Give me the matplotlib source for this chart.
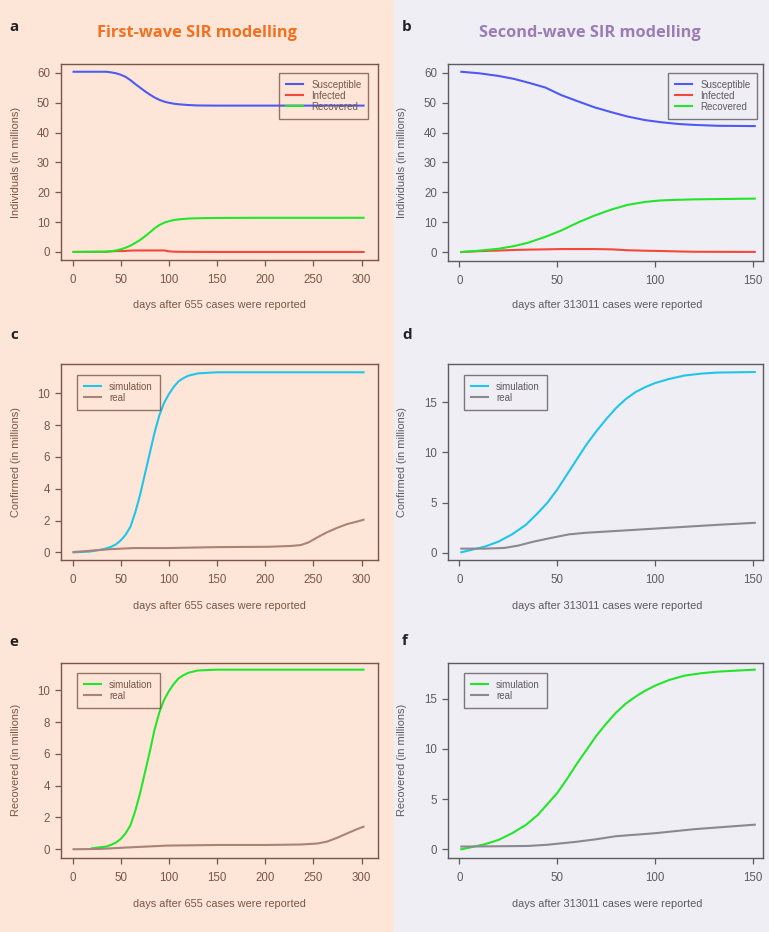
import matplotlib.pyplot as plt

plt.rcParams['font.family'] = ['Liberation Sans', 'DejaVu Sans']

W, H = 769, 932

# panel a: first-wave SIR
a_days = [1, 35, 40, 45, 50, 55, 60, 65, 70, 75, 80, 85, 90, 95, 100, 105, 110, 120, 130, 150, 200, 250, 302]
a_susc = [60.4, 60.4, 60.2, 59.9, 59.4, 58.7, 57.6, 56.3, 55.1, 53.9, 52.8, 51.8, 51.0, 50.4, 50.0, 49.7, 49.5, 49.25, 49.1, 49.05, 49.05, 49.05, 49.05]
a_inf = [0.0, 0.05, 0.2, 0.3, 0.3, 0.35, 0.45, 0.5, 0.5, 0.5, 0.5, 0.5, 0.5, 0.5, 0.2, 0.1, 0.05, 0.03, 0.02, 0.0, 0.0, 0.0, 0.0]
a_rec = [0.0, 0.1, 0.25, 0.5, 0.9, 1.4, 2.1, 3.0, 4.0, 5.2, 6.5, 7.9, 9.0, 9.8, 10.3, 10.7, 10.9, 11.2, 11.3, 11.4, 11.45, 11.45, 11.45]

# panel b: second-wave SIR
b_days = [1, 10, 20, 28, 35, 44, 52, 61, 69, 78, 86, 95, 103, 112, 120, 132, 151]
b_susc = [60.4, 59.9, 59.0, 58.0, 56.8, 55.1, 52.6, 50.4, 48.5, 46.8, 45.4, 44.2, 43.5, 42.9, 42.6, 42.3, 42.2]
b_inf = [0.0, 0.3, 0.5, 0.7, 0.8, 0.9, 1.0, 1.0, 1.0, 0.9, 0.6, 0.45, 0.35, 0.2, 0.1, 0.07, 0.05]
b_rec = [0.0, 0.45, 1.1, 2.0, 3.1, 5.1, 7.2, 10.0, 12.2, 14.3, 15.8, 16.8, 17.3, 17.5, 17.65, 17.75, 17.9]

# panel c: first-wave confirmed
c_days = [1, 18, 32, 40, 45, 50, 55, 60, 65, 70, 75, 80, 85, 90, 95, 100, 105, 110, 115, 120, 130, 150, 200, 250, 302]
c_sim = [0.0, 0.05, 0.2, 0.35, 0.5, 0.75, 1.1, 1.6, 2.5, 3.6, 4.9, 6.2, 7.5, 8.6, 9.4, 9.95, 10.4, 10.75, 10.95, 11.1, 11.25, 11.32, 11.32, 11.32, 11.32]
c_real_days = [1, 18, 39, 63, 98, 150, 202, 226, 237, 245, 254, 264, 275, 285, 295, 302]
c_real = [0.02, 0.1, 0.2, 0.27, 0.27, 0.33, 0.35, 0.4, 0.46, 0.63, 0.94, 1.26, 1.55, 1.78, 1.93, 2.05]

# panel d: second-wave confirmed
d_days = [1, 6, 13, 20, 27, 34, 40, 45, 50, 55, 60, 65, 70, 75, 80, 85, 90, 95, 100, 107, 115, 124, 132, 151]
d_sim = [0.07, 0.3, 0.63, 1.13, 1.86, 2.8, 3.95, 5.0, 6.3, 7.8, 9.3, 10.8, 12.1, 13.3, 14.4, 15.3, 16.0, 16.5, 16.9, 17.3, 17.65, 17.85, 17.95, 18.0]
d_real_days = [1, 13, 23, 30, 38, 47, 56, 64, 81, 98, 115, 132, 151]
d_real = [0.43, 0.43, 0.5, 0.73, 1.13, 1.5, 1.85, 2.0, 2.2, 2.4, 2.6, 2.8, 3.0]

# panel e: first-wave recovered
e_days = [20, 35, 40, 45, 50, 55, 60, 65, 70, 75, 80, 85, 90, 95, 100, 105, 110, 115, 120, 130, 150, 200, 250, 302]
e_sim = [0.06, 0.17, 0.28, 0.42, 0.65, 1.0, 1.5, 2.4, 3.5, 4.8, 6.1, 7.5, 8.6, 9.4, 9.95, 10.4, 10.75, 10.95, 11.1, 11.25, 11.3, 11.3, 11.3, 11.3]
e_real_days = [1, 28, 63, 98, 150, 202, 237, 254, 264, 275, 285, 295, 302]
e_real = [0.0, 0.02, 0.13, 0.23, 0.27, 0.27, 0.3, 0.36, 0.48, 0.73, 1.0, 1.26, 1.42]

# panel f: second-wave recovered
f_days = [1, 6, 13, 20, 27, 34, 40, 45, 50, 55, 60, 65, 70, 75, 80, 85, 90, 95, 100, 107, 115, 124, 132, 151]
f_sim = [0.0, 0.2, 0.5, 0.93, 1.6, 2.43, 3.4, 4.5, 5.6, 7.0, 8.5, 9.9, 11.3, 12.5, 13.6, 14.5, 15.2, 15.8, 16.3, 16.85, 17.3, 17.55, 17.7, 17.9]
f_real_days = [1, 20, 35, 45, 50, 60, 70, 80, 100, 120, 151]
f_real = [0.27, 0.3, 0.33, 0.45, 0.55, 0.75, 1.0, 1.3, 1.6, 2.0, 2.45]

BLUE, RED, GREEN, CYAN = '#4E5AF2', '#F5473A', '#22E62A', '#1FC6EA'
LEFT_BG, RIGHT_BG = '#FDE6D8', '#F0EEF5'
LEFT_TXT, RIGHT_TXT = '#7A5646', '#5E5A62'
LEFT_REAL, RIGHT_REAL = '#A98474', '#8C8892'
FS = 7.9

fig = plt.figure(figsize=(W / 100, H / 100), dpi=100)
fig.patches.append(plt.Rectangle((0, 0), 394 / W, 1, transform=fig.transFigure,
                                 color=LEFT_BG, zorder=-10))
fig.patches.append(plt.Rectangle((394 / W, 0), 1 - 394 / W, 1, transform=fig.transFigure,
                                 color=RIGHT_BG, zorder=-10))


def px(x, y):
    return x / W, 1 - y / H


def panel(x0, y0, x1, y1, xlim, ylim, yticks, xticks, txt):
    ax = fig.add_axes([x0 / W, 1 - y1 / H, (x1 - x0) / W, (y1 - y0) / H])
    ax.set_facecolor('none')
    ax.set_xlim(*xlim)
    ax.set_ylim(*ylim)
    ax.set_xticks(xticks)
    ax.set_yticks(yticks)
    for s in ax.spines.values():
        s.set_color(txt)
        s.set_linewidth(1.0)
    ax.tick_params(colors=txt, labelcolor=txt, labelsize=FS + 0.4, length=4, width=0.9)
    ax.tick_params(axis='x', pad=6)
    ax.tick_params(axis='y', pad=4)
    return ax


def legend(ax, x, y, txt):
    leg = ax.legend(loc='upper left', bbox_to_anchor=px(x, y), bbox_transform=fig.transFigure,
                    fontsize=7, frameon=True, fancybox=False, handlelength=1.8,
                    borderpad=0.7, labelspacing=0.1, handletextpad=0.8, borderaxespad=0)
    leg.get_frame().set_edgecolor(txt)
    leg.get_frame().set_facecolor('none')
    leg.get_frame().set_linewidth(1.0)
    for t in leg.get_texts():
        t.set_color(txt)


LX = (61, 378)
RX = (448, 763)
left_xlim = (-12, 317)
right_xlim = (-5.8, 155.2)
left_xt = [0, 50, 100, 150, 200, 250, 300]
right_xt = [0, 50, 100, 150]

# a
ax = panel(LX[0], 64, LX[1], 260, left_xlim, (-2.7, 63.0), [0, 10, 20, 30, 40, 50, 60], left_xt, LEFT_TXT)
ax.plot(a_days, a_susc, color=BLUE, lw=1.5, label='Susceptible')
ax.plot(a_days, a_inf, color=RED, lw=1.5, label='Infected')
ax.plot(a_days, a_rec, color=GREEN, lw=1.5, label='Recovered')
legend(ax, 279, 73, LEFT_TXT)

# b
ax = panel(RX[0], 64, RX[1], 261, right_xlim, (-3.0, 63.0), [0, 10, 20, 30, 40, 50, 60], right_xt, RIGHT_TXT)
ax.plot(b_days, b_susc, color=BLUE, lw=1.5, label='Susceptible')
ax.plot(b_days, b_inf, color=RED, lw=1.5, label='Infected')
ax.plot(b_days, b_rec, color=GREEN, lw=1.5, label='Recovered')
legend(ax, 668, 73, RIGHT_TXT)

# c
ax = panel(LX[0], 364, LX[1], 560, left_xlim, (-0.48, 11.84), [0, 2, 4, 6, 8, 10], left_xt, LEFT_TXT)
ax.plot(c_days, c_sim, color=CYAN, lw=1.5, label='simulation')
ax.plot(c_real_days, c_real, color=LEFT_REAL, lw=1.5, label='real')
legend(ax, 77, 375, LEFT_TXT)

# d
ax = panel(RX[0], 364, RX[1], 560, right_xlim, (-0.7, 18.8), [0, 5, 10, 15], right_xt, RIGHT_TXT)
ax.plot(d_days, d_sim, color=CYAN, lw=1.5, label='simulation')
ax.plot(d_real_days, d_real, color=RIGHT_REAL, lw=1.5, label='real')
legend(ax, 464, 375, RIGHT_TXT)

# e
ax = panel(LX[0], 663, LX[1], 858, left_xlim, (-0.55, 11.72), [0, 2, 4, 6, 8, 10], left_xt, LEFT_TXT)
ax.plot(e_days, e_sim, color=GREEN, lw=1.5, label='simulation')
ax.plot(e_real_days, e_real, color=LEFT_REAL, lw=1.5, label='real')
legend(ax, 77, 673, LEFT_TXT)

# f
ax = panel(RX[0], 663, RX[1], 858, right_xlim, (-0.87, 18.56), [0, 5, 10, 15], right_xt, RIGHT_TXT)
ax.plot(f_days, f_sim, color=GREEN, lw=1.5, label='simulation')
ax.plot(f_real_days, f_real, color=RIGHT_REAL, lw=1.5, label='real')
legend(ax, 464, 673, RIGHT_TXT)

# titles and panel letters
fig.text(*px(197, 33), 'First-wave SIR modelling', color='#F4701E', fontsize=11.8,
         fontweight='bold', family=['Open Sans', 'DejaVu Sans'], ha='center', va='center')
fig.text(*px(590, 33), 'Second-wave SIR modelling', color='#9B7DB5', fontsize=11.8,
         fontweight='bold', family=['Open Sans', 'DejaVu Sans'], ha='center', va='center')
for letter, x, y in [('a', 14, 27), ('b', 407, 27), ('c', 14, 335),
                     ('d', 407, 335), ('e', 14, 642), ('f', 405, 641)]:
    fig.text(*px(x, y), letter, fontsize=11, fontweight='bold', color='#222222',
             family=['Open Sans', 'DejaVu Sans'], ha='center', va='center')

# axis labels
for y, ylab in [(162, 'Individuals (in millions)'), (462, 'Confirmed (in millions)'),
                (760, 'Recovered (in millions)')]:
    fig.text(*px(16, y), ylab, rotation=90, fontsize=FS, color=LEFT_TXT, ha='center', va='center')
    fig.text(*px(402, y), ylab, rotation=90, fontsize=FS, color=RIGHT_TXT, ha='center', va='center')
for y in [305, 606, 904]:
    fig.text(*px(219, y), 'days after 655 cases were reported', fontsize=FS,
             color=LEFT_TXT, ha='center', va='center')
    fig.text(*px(607, y), 'days after 313011 cases were reported', fontsize=FS,
             color=RIGHT_TXT, ha='center', va='center')

fig.savefig('out.png', dpi=100)
